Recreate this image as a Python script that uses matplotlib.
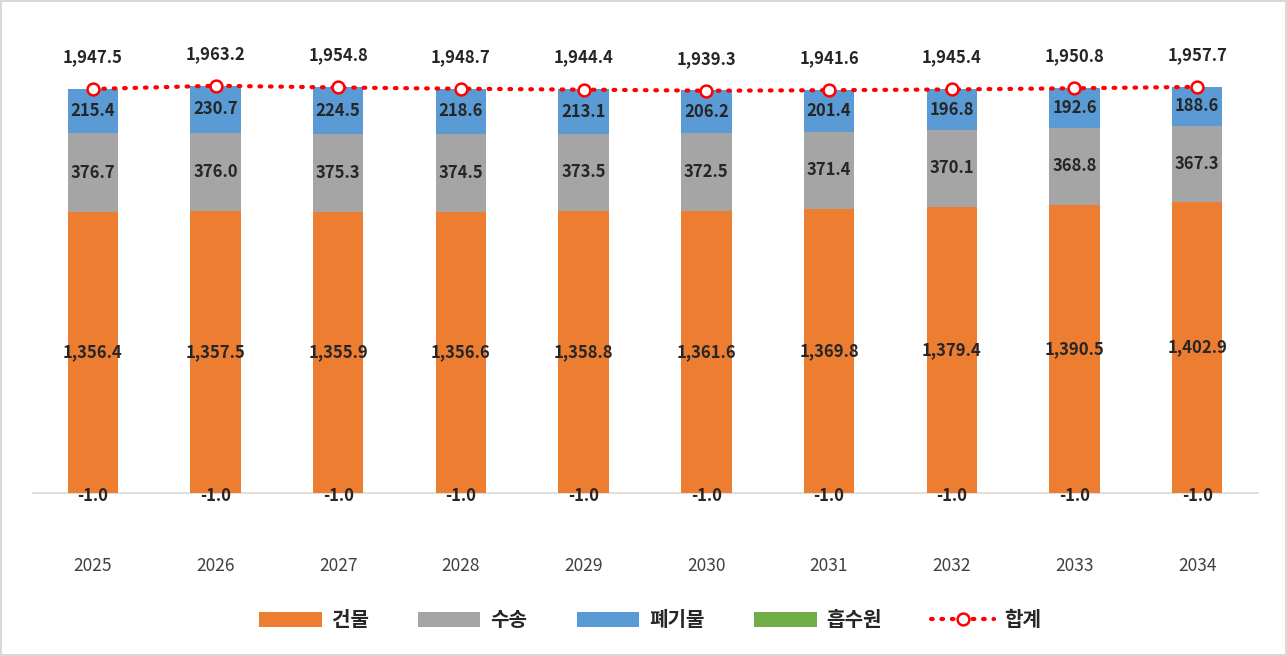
import matplotlib
matplotlib.use("Agg")
import matplotlib.pyplot as plt
import numpy as np

plt.rcParams['font.family'] = ['Noto Sans CJK KR', 'DejaVu Sans']

years = ["2025", "2026", "2027", "2028", "2029", "2030", "2031", "2032", "2033", "2034"]
building = [1356.4, 1357.5, 1355.9, 1356.6, 1358.8, 1361.6, 1369.8, 1379.4, 1390.5, 1402.9]
transport = [376.7, 376.0, 375.3, 374.5, 373.5, 372.5, 371.4, 370.1, 368.8, 367.3]
waste = [215.4, 230.7, 224.5, 218.6, 213.1, 206.2, 201.4, 196.8, 192.6, 188.6]
sink = [-1.0] * 10
total = [1947.5, 1963.2, 1954.8, 1948.7, 1944.4, 1939.3, 1941.6, 1945.4, 1950.8, 1957.7]
series_names = ["건물", "수송", "폐기물", "흡수원", "합계"]

colors = ["#ED7D31", "#A5A5A5", "#5B9BD5", "#70AD47"]

W, H = 1287, 656
fig = plt.figure(figsize=(W / 100, H / 100), dpi=100)
fig.patch.set_facecolor("white")
fig.patch.set_edgecolor("#D9D9D9")
fig.patch.set_linewidth(1.5)

left_px, right_px = 31.5, 1258.5
top_px, bottom_px = 40, 510
ax = fig.add_axes([left_px / W, 1 - bottom_px / H, (right_px - left_px) / W, (bottom_px - top_px) / H])

zero_px = 493
scale = (zero_px - 89) / 1947.5  # px per unit
ymax = (zero_px - top_px) / scale
ymin = -(bottom_px - zero_px) / scale

x = np.arange(len(years))
bw = 0.41
b = np.array(building)
t = np.array(transport)
wv = np.array(waste)
s = np.array(sink)

ax.bar(x, b, bw, color=colors[0], label=series_names[0], zorder=2)
ax.bar(x, t, bw, bottom=b, color=colors[1], label=series_names[1], zorder=2)
ax.bar(x, wv, bw, bottom=b + t, color=colors[2], label=series_names[2], zorder=2)
ax.bar(x, s, bw, color=colors[3], label=series_names[3], zorder=2)
ax.plot(x, total, color="#FF0000", linestyle=(0, (0.4, 2.1)), linewidth=3,
        dash_capstyle="round", marker="o", markersize=8.5,
        markerfacecolor="white", markeredgecolor="#FF0000", markeredgewidth=1.8,
        label=series_names[4], zorder=4)

lab_kw = dict(ha="center", va="center", fontsize=12, fontweight="bold", color="#262626", zorder=5)
for i in range(len(years)):
    ax.text(x[i], b[i] / 2, f"{b[i]:,.1f}", **lab_kw)
    ax.text(x[i], b[i] + t[i] / 2, f"{t[i]:,.1f}", **lab_kw)
    ax.text(x[i], b[i] + t[i] + wv[i] / 2, f"{wv[i]:,.1f}", **lab_kw)
    ax.annotate(f"{s[i]:,.1f}", (x[i], s[i]), xytext=(0, -2), textcoords="offset points", **lab_kw)
    ax.annotate(f"{total[i]:,.1f}", (x[i], total[i]), xytext=(0, 23), textcoords="offset points", **lab_kw)

ax.set_xlim(-0.5, len(years) - 0.5)
ax.set_ylim(ymin, ymax)
ax.set_yticks([])
ax.set_xticks(x)
ax.set_xticklabels(years, fontsize=12.5, color="#404040")
ax.tick_params(axis="x", length=0, pad=(565 - bottom_px) * 0.72 - 6)
for sp in ["top", "right", "left", "bottom"]:
    ax.spines[sp].set_visible(False)
ax.axhline(0, color="#D9D9D9", linewidth=1.2, zorder=1)
ax.patch.set_alpha(0)

handles, labels = ax.get_legend_handles_labels()
h_by = dict(zip(labels, handles))
leg = fig.legend([h_by[n] for n in series_names], series_names, loc="center",
                 bbox_to_anchor=(650 / W, 1 - 620 / H), ncol=5, frameon=False,
                 fontsize=14.5, handlelength=3.1, handleheight=0.7, columnspacing=2.45,
                 handletextpad=0.5)
for txt in leg.get_texts():
    txt.set_fontweight("bold")
    txt.set_color("#262626")

fig.savefig("out.png", dpi=100, facecolor=fig.get_facecolor(), edgecolor=fig.get_edgecolor())
